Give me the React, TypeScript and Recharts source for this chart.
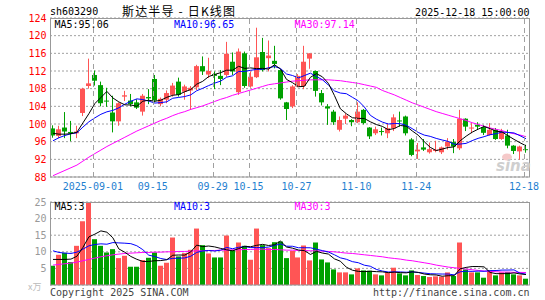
import { ComposedChart, Bar, Line, XAxis, YAxis, CartesianGrid } from 'recharts';

const dates = [
    '2025-08-21', '2025-08-22', '2025-08-25', '2025-08-26', '2025-08-27', '2025-08-28', '2025-08-29',
    '2025-09-01', '2025-09-02', '2025-09-03', '2025-09-04', '2025-09-05',
    '2025-09-08', '2025-09-09', '2025-09-10', '2025-09-11', '2025-09-12',
    '2025-09-15', '2025-09-16', '2025-09-17', '2025-09-18', '2025-09-19',
    '2025-09-22', '2025-09-23', '2025-09-24', '2025-09-25', '2025-09-26',
    '2025-09-29', '2025-09-30', '2025-10-09', '2025-10-10',
    '2025-10-13', '2025-10-14', '2025-10-15', '2025-10-16', '2025-10-17',
    '2025-10-20', '2025-10-21', '2025-10-22', '2025-10-23', '2025-10-24',
    '2025-10-27', '2025-10-28', '2025-10-29', '2025-10-30', '2025-10-31',
    '2025-11-03', '2025-11-04', '2025-11-05', '2025-11-06', '2025-11-07',
    '2025-11-10', '2025-11-11', '2025-11-12', '2025-11-13', '2025-11-14',
    '2025-11-17', '2025-11-18', '2025-11-19', '2025-11-20', '2025-11-21',
    '2025-11-24', '2025-11-25', '2025-11-26', '2025-11-27', '2025-11-28',
    '2025-12-01', '2025-12-02', '2025-12-03', '2025-12-04', '2025-12-05',
    '2025-12-08', '2025-12-09', '2025-12-10', '2025-12-11', '2025-12-12',
    '2025-12-15', '2025-12-16', '2025-12-17', '2025-12-18',
];

const openPrices = [
    99.0, 97.3, 99.2, 98.2, 97.9, 102.5, 108.6, 111.1, 108.8, 105.3,
    102.6, 100.6, 106.2, 105.3, 104.9, 102.8, 106.1, 110.2, 104.5, 105.5,
    106.6, 109.6, 107.3, 107.6, 108.3, 113.1, 111.2, 111.3, 110.9, 111.1,
    114.1, 107.2, 116.0, 108.5, 110.6, 116.3, 114.9, 114.3, 112.2, 104.9,
    104.0, 108.5, 108.6, 114.8, 112.0, 107.0, 104.0, 102.8, 98.7, 101.2,
    100.9, 100.4, 103.2, 99.2, 97.9, 98.4, 97.9, 99.0, 100.8, 101.7,
    96.5, 93.8, 94.7, 93.6, 93.9, 93.6, 94.9, 95.9, 94.5, 101.2,
    99.0, 99.8, 99.3, 97.5, 98.7, 96.6, 97.4, 95.1, 93.8, 94.3,
];
const highPrices = [
    99.7, 99.6, 102.7, 100.7, 99.6, 108.2, 114.8, 112.1, 109.6, 108.2,
    106.4, 104.9, 107.5, 106.8, 105.6, 106.8, 107.9, 111.1, 106.0, 107.6,
    109.3, 110.5, 108.9, 108.6, 113.4, 115.3, 115.0, 111.9, 112.2, 118.6,
    116.2, 117.1, 116.4, 111.9, 121.8, 119.5, 118.9, 117.7, 112.3, 105.0,
    108.8, 111.3, 117.7, 116.0, 112.1, 107.7, 104.5, 103.2, 101.7, 102.4,
    101.1, 104.9, 103.4, 99.3, 99.4, 99.2, 100.2, 102.2, 102.8, 101.9,
    96.8, 95.7, 96.6, 95.8, 96.2, 94.9, 96.8, 96.6, 103.2, 101.3,
    100.2, 100.4, 99.8, 100.2, 99.1, 98.9, 98.7, 95.2, 95.1, 95.3,
];
const lowPrices = [
    96.9, 96.8, 96.8, 96.1, 96.8, 101.8, 108.0, 108.7, 104.0, 103.9,
    98.1, 99.6, 105.2, 104.0, 103.4, 101.9, 104.5, 104.9, 104.0, 104.7,
    106.2, 106.2, 105.5, 103.2, 107.7, 111.1, 110.4, 107.9, 108.8, 110.7,
    111.1, 106.6, 108.2, 108.2, 110.4, 111.9, 111.9, 112.6, 105.5, 100.9,
    103.6, 108.3, 107.9, 112.5, 106.2, 104.2, 99.8, 99.8, 98.3, 100.0,
    99.5, 100.2, 99.9, 96.6, 97.5, 97.4, 96.8, 98.4, 99.4, 97.4,
    92.7, 92.1, 93.9, 93.3, 93.6, 93.2, 94.2, 93.4, 94.1, 98.4,
    97.9, 98.7, 97.5, 97.4, 96.4, 96.4, 94.5, 93.2, 91.9, 93.5,
];
const closePrices = [
    97.4, 98.8, 98.3, 97.9, 98.3, 108.0, 109.2, 109.8, 104.7, 105.2,
    100.6, 104.7, 106.5, 104.5, 103.7, 106.4, 105.8, 105.3, 105.7, 107.0,
    108.7, 106.6, 108.5, 108.2, 113.1, 111.9, 112.0, 110.9, 110.2, 115.9,
    111.9, 116.4, 108.6, 110.7, 115.1, 112.2, 115.5, 113.6, 105.8, 103.4,
    108.5, 110.9, 114.1, 116.0, 107.5, 104.9, 103.5, 100.4, 100.9, 101.9,
    100.4, 102.8, 100.2, 97.2, 98.8, 98.3, 99.05, 101.5, 100.7, 97.9,
    93.0, 94.2, 94.2, 94.3, 94.2, 94.7, 96.0, 94.9, 101.2, 99.4,
    99.2, 99.4, 98.0, 98.7, 96.6, 98.3, 95.1, 93.9, 94.9, 94.2,
];

const ma5 = [
    97.9, 97.7, 97.7, 97.8, 98.14, 100.26, 102.34, 104.64, 106.0, 107.38,
    105.9, 105.0, 104.34, 104.3, 104.0, 105.16, 105.38, 105.14, 105.38, 106.04,
    106.5, 106.66, 107.3, 107.8, 109.02, 109.66, 110.74, 111.22, 111.62, 112.18,
    112.18, 113.06, 112.6, 112.7, 112.54, 112.6, 112.42, 113.42, 112.44, 110.1,
    109.36, 108.44, 108.54, 110.58, 111.4, 110.68, 109.2, 106.46, 103.44, 102.32,
    101.42, 101.28, 101.24, 100.5, 99.88, 99.46, 98.71, 98.97, 99.67, 99.49,
    98.43, 97.46, 96.0, 94.72, 93.98, 94.32, 94.68, 94.82, 96.2, 97.24,
    98.14, 98.82, 99.44, 98.94, 98.38, 98.2, 97.34, 96.52, 95.76, 95.06,
];
const ma10 = [
    96.2, 96.9, 97.4, 97.8, 98.0, 99.3, 100.5, 101.4, 102.2, 102.76,
    103.08, 103.67, 104.49, 105.15, 105.69, 105.53, 105.19, 104.74, 104.84, 105.02,
    105.83, 106.02, 106.22, 106.59, 107.53, 108.08, 108.7, 109.26, 109.71, 110.6,
    110.92, 111.9, 111.91, 112.16, 112.36, 112.39, 112.74, 113.01, 112.57, 111.32,
    110.98, 110.43, 110.98, 111.51, 110.75, 110.02, 108.82, 107.5, 107.01, 106.86,
    106.05, 105.24, 103.85, 101.97, 101.1, 100.44, 100.0, 100.1, 100.09, 99.69,
    98.95, 98.09, 97.49, 97.2, 96.74, 96.38, 96.07, 95.41, 95.46, 95.61,
    96.23, 96.75, 97.13, 97.57, 97.81, 98.17, 98.08, 97.98, 97.35, 96.65,
];
const ma30 = [
    88.3, 88.9, 89.5, 90.1, 90.7, 91.6, 92.5, 93.3, 94.1, 94.9,
    95.6, 96.3, 97.0, 97.7, 98.4, 99.0, 99.6, 100.2, 100.8, 101.3,
    101.9, 102.4, 102.8, 103.3, 103.7, 104.1, 104.6, 105.1, 105.6, 106.0,
    106.5, 106.9, 107.3, 107.7, 108.1, 108.5, 108.9, 109.1, 109.3, 109.5,
    109.7, 109.8, 109.9, 110.0, 110.0, 110.0, 110.0, 109.9, 109.8, 109.6,
    109.4, 109.2, 108.9, 108.6, 108.3, 107.6, 107.1, 106.6, 106.0, 105.4,
    104.8, 104.3, 103.8, 103.3, 102.8, 102.4, 102.0, 101.6, 101.2, 100.8,
    100.3, 99.9, 99.5, 99.1, 98.8, 98.5, 98.1, 97.8, 97.5, 97.14,
];

const volumes = [
    5.8, 9.1, 9.7, 6.9, 11.8, 19.2, 24.9, 13.8, 11.8, 9.8,
    10.8, 8.1, 8.8, 5.5, 5.5, 7.5, 8.2, 9.8, 5.8, 6.7,
    14.3, 8.6, 9.6, 10.6, 17.0, 12.0, 9.5, 8.3, 8.3, 14.9,
    10.5, 12.8, 11.8, 7.6, 17.0, 12.0, 11.1, 12.9, 13.1, 8.1,
    10.3, 8.3, 11.9, 7.4, 12.8, 7.7, 6.8, 4.7, 3.8, 3.8,
    3.2, 5.0, 4.4, 4.3, 3.2, 2.9, 3.8, 5.2, 3.5, 2.9,
    4.4, 3.0, 2.7, 2.4, 2.6, 2.5, 3.8, 2.7, 12.8, 4.7,
    3.8, 3.8, 2.2, 4.4, 2.9, 3.8, 3.9, 3.2, 2.9, 1.9,
];
const volMa5 = [
    7.7, 7.7, 7.7, 7.8, 8.66, 11.34, 14.5, 15.32, 16.3, 15.9,
    14.22, 10.86, 9.86, 8.6, 7.74, 7.08, 7.1, 7.3, 7.36, 7.6,
    8.96, 9.04, 9.0, 9.96, 12.02, 11.56, 11.74, 11.48, 11.02, 10.6,
    10.3, 10.96, 11.66, 11.52, 11.94, 12.24, 11.9, 12.12, 13.22, 11.44,
    11.1, 10.54, 10.34, 9.2, 10.14, 9.62, 9.32, 7.88, 7.16, 5.36,
    4.46, 4.1, 4.04, 4.14, 4.02, 3.96, 3.72, 3.88, 3.72, 3.66,
    3.96, 3.8, 3.3, 3.08, 3.02, 2.64, 2.8, 2.8, 4.88, 5.3,
    5.56, 5.56, 5.46, 3.78, 3.42, 3.42, 3.44, 3.64, 3.34, 3.14,
];
const volMa10 = [
    10.3, 9.8, 9.6, 9.5, 9.9, 10.8, 11.8, 12.2, 12.4, 12.28,
    12.78, 12.68, 12.59, 12.45, 11.82, 10.65, 8.98, 8.58, 7.98, 7.67,
    8.02, 8.07, 8.15, 8.66, 9.81, 10.26, 10.39, 10.24, 10.49, 11.31,
    10.93, 11.35, 11.57, 11.27, 11.27, 11.27, 11.43, 11.89, 12.37, 11.69,
    11.67, 11.22, 11.23, 11.21, 10.79, 10.36, 9.93, 9.11, 8.18, 7.75,
    7.04, 6.71, 5.96, 5.65, 4.69, 4.21, 3.91, 3.96, 3.93, 3.84,
    3.96, 3.76, 3.59, 3.4, 3.34, 3.3, 3.3, 3.05, 3.98, 4.16,
    4.1, 4.18, 4.13, 4.33, 4.36, 4.49, 4.5, 4.55, 3.56, 3.28,
];
const volMa30 = [
    6.0, 6.2, 6.4, 6.6, 6.9, 7.3, 7.7, 8.1, 8.5, 8.8,
    9.1, 9.3, 9.5, 9.6, 9.7, 9.8, 9.8, 9.9, 9.9, 10.0,
    10.0, 10.1, 10.1, 10.2, 10.3, 10.3, 10.4, 10.4, 10.5, 10.5,
    10.6, 10.6, 10.7, 10.7, 10.8, 10.8, 10.7, 10.7, 10.6, 10.5,
    10.5, 10.4, 10.4, 10.3, 10.3, 10.2, 10.1, 10.0, 9.8, 9.6,
    9.5, 9.3, 9.1, 8.9, 8.7, 8.5, 8.2, 8.0, 7.8, 7.5,
    7.3, 7.0, 6.7, 6.4, 6.0, 5.7, 5.4, 5.2, 5.0, 4.8,
    4.6, 4.4, 4.2, 4.1, 4.0, 3.9, 3.9, 3.8, 3.8, 3.76,
];

const priceTicks = [88, 92, 96, 100, 104, 108, 112, 116, 120, 124];
const volumeTicks = [0, 5, 10, 15, 20, 25];
const dateTicks = ['2025-09-01', '2025-09-15', '2025-09-29', '2025-10-15', '2025-10-27', '2025-11-10', '2025-11-24', '2025-12-18'];

const RED = '#ff5555';
const GREEN = '#00a000';
const GRID = '#a0a0a0';
const MONO = "'DejaVu Sans Mono', monospace";

const data = dates.map((date, i) => ({
    date,
    open: openPrices[i],
    high: highPrices[i],
    low: lowPrices[i],
    close: closePrices[i],
    range: [lowPrices[i], highPrices[i]],
    volume: volumes[i],
    ma5: ma5[i],
    ma10: ma10[i],
    ma30: ma30[i],
    volMa5: volMa5[i],
    volMa10: volMa10[i],
    volMa30: volMa30[i],
}));

function Candle(props: any) {
    const { x, y, width, height, payload } = props;
    const { open, close, high, low } = payload;
    const color = close >= open ? RED : GREEN;
    const h = Math.abs(height);
    const top = Math.min(y, y + height);
    const span = high - low;
    const toY = (v: number) => (span === 0 ? top : top + ((high - v) / span) * h);
    const cx = Math.floor(x + width / 2) + 0.5;
    const bodyTop = toY(Math.max(open, close));
    const bodyBottom = toY(Math.min(open, close));
    return (
        <g>
            <line x1={cx} x2={cx} y1={top} y2={top + h} stroke={color} strokeWidth={1} />
            <rect x={cx - 2.5} y={bodyTop} width={5} height={Math.max(bodyBottom - bodyTop, 1)} fill={color} />
        </g>
    );
}

function VolumeBar(props: any) {
    const { x, y, width, height, payload } = props;
    const color = payload.close >= payload.open ? RED : GREEN;
    const cx = Math.floor(x + width / 2) + 0.5;
    return <rect x={cx - 2.5} y={y} width={5} height={Math.max(height, 0)} fill={color} />;
}

function PriceTick(props: any) {
    const { y, payload } = props;
    return (
        <text x={46.5} y={y} dy={3.6} textAnchor="end" fill="#ff0000" fontSize={10} fontFamily={MONO}>
            {payload.value}
        </text>
    );
}

function VolumeTick(props: any) {
    const { y, payload } = props;
    if (payload.value === 0) return <g />;
    return (
        <text x={46.5} y={y} dy={3.6} textAnchor="end" fill="#999999" fontSize={10} fontFamily={MONO}>
            {payload.value}
        </text>
    );
}

// date labels, each with the dashed vertical guide running up through the plot
function DateTick(props: any) {
    const { x, payload } = props;
    if (!dateTicks.includes(payload.value)) return <g />;
    const label = payload.value === '2025-09-01' ? payload.value : payload.value.slice(5);
    const lx = Math.floor(x - 1.5) + 0.5;
    return (
        <g>
            <path d={`M${lx},19V177`} stroke={GRID} strokeWidth={1} strokeDasharray="5,4" fill="none" />
            <text x={x - 2} y={190} textAnchor="middle" fill="#1f7fd0" fontSize={10} fontFamily={MONO}>
                {label}
            </text>
        </g>
    );
}

function VolumeGuide(props: any) {
    const { x, payload } = props;
    if (!dateTicks.includes(payload.value)) return <g />;
    const lx = Math.floor(x - 1.5) + 0.5;
    return <path d={`M${lx},13V95`} stroke={GRID} strokeWidth={1} strokeDasharray="5,4" fill="none" />;
}

export default function App() {
    return (
        <div style={{ position: 'fixed', left: 0, top: 0, width: 545, height: 300, background: '#fff', overflow: 'hidden' }}>
            <div style={{ position: 'absolute', left: 0, top: 0 }}>
                <ComposedChart width={545} height={195} data={data} margin={{ top: 18, right: 16, bottom: 0, left: 0 }}>
                    <CartesianGrid vertical={false} stroke={GRID} strokeDasharray="2 2" />
                    <XAxis dataKey="date" interval={0} height={18} tickLine={false} axisLine={false} tick={<DateTick />} />
                    <YAxis domain={[88, 124]} ticks={priceTicks} width={50} allowDataOverflow axisLine={false} tickLine={false} interval={0} tick={<PriceTick />} />
                    <Bar dataKey="range" barSize={5} shape={<Candle />} isAnimationActive={false} />
                    <Line type="linear" dataKey="ma30" stroke="#ff00ff" strokeWidth={1} dot={false} isAnimationActive={false} />
                    <Line type="linear" dataKey="ma10" stroke="#0000ff" strokeWidth={1} dot={false} isAnimationActive={false} />
                    <Line type="linear" dataKey="ma5" stroke="#000000" strokeWidth={1} dot={false} isAnimationActive={false} />
                </ComposedChart>
            </div>
            <div style={{ position: 'absolute', left: 0, top: 190 }}>
                <ComposedChart width={545} height={100} data={data} margin={{ top: 12, right: 16, bottom: 5, left: 0 }}>
                    <CartesianGrid vertical={false} stroke={GRID} strokeDasharray="2 2" />
                    <XAxis dataKey="date" interval={0} height={0} tickLine={false} axisLine={false} tick={<VolumeGuide />} />
                    <YAxis domain={[0, 25]} ticks={volumeTicks} width={50} allowDataOverflow axisLine={false} tickLine={false} interval={0} tick={<VolumeTick />} />
                    <Bar dataKey="volume" barSize={5} shape={<VolumeBar />} isAnimationActive={false} />
                    <Line type="linear" dataKey="volMa30" stroke="#ff00ff" strokeWidth={1} dot={false} isAnimationActive={false} />
                    <Line type="linear" dataKey="volMa10" stroke="#0000ff" strokeWidth={1} dot={false} isAnimationActive={false} />
                    <Line type="linear" dataKey="volMa5" stroke="#000000" strokeWidth={1} dot={false} isAnimationActive={false} />
                </ComposedChart>
            </div>
            <svg width={545} height={300} style={{ position: 'absolute', left: 0, top: 0, pointerEvents: 'none' }}>
                <rect x={50.5} y={18.5} width={479} height={158.5} fill="none" stroke="#999" />
                <rect x={50.5} y={202.5} width={479} height={82.5} fill="none" stroke="#999" />

                <text x={50} y={15} fontSize={10} fontFamily={MONO} fill="#000">sh603290</text>
                <text x={122} y={15.5} fontSize={12} fontFamily="'Noto Sans CJK SC', sans-serif" fill="#000" textLength={113}>斯达半导 - 日K线图</text>
                <text x={529.5} y={15.5} fontSize={10} fontFamily={MONO} fill="#000" textAnchor="end">2025-12-18 15:00:00</text>

                <text x={54.5} y={27.5} fontSize={10} fontFamily={MONO} fill="#000">MA5:95.06</text>
                <text x={174} y={27.5} fontSize={10} fontFamily={MONO} fill="#0000ff">MA10:96.65</text>
                <text x={294.5} y={27.5} fontSize={10} fontFamily={MONO} fill="#ff00ff">MA30:97.14</text>

                <text x={54.5} y={210} fontSize={10} fontFamily={MONO} fill="#000">MA5:3</text>
                <text x={174} y={210} fontSize={10} fontFamily={MONO} fill="#0000ff">MA10:3</text>
                <text x={294.5} y={210} fontSize={10} fontFamily={MONO} fill="#ff00ff">MA30:3</text>

                <ellipse cx={507} cy={157} rx={5} ry={3.5} fill="#f5c9c9" />
                <text x={496} y={171} fontSize={15} fontStyle="italic" fontWeight="bold" fontFamily="'DejaVu Sans', sans-serif" fill="#cfcfcf">sina</text>

                <text x={28} y={290} fontSize={9} fontFamily="'Noto Sans CJK SC', sans-serif" fill="#bbb">x万</text>
                <text x={50} y={296} fontSize={10} fontFamily={MONO} fill="#444">Copyright 2025 SINA.COM</text>
                <text x={529.5} y={296} fontSize={10} fontFamily={MONO} fill="#444" textAnchor="end">http://finance.sina.com.cn</text>
            </svg>
        </div>
    );
}
